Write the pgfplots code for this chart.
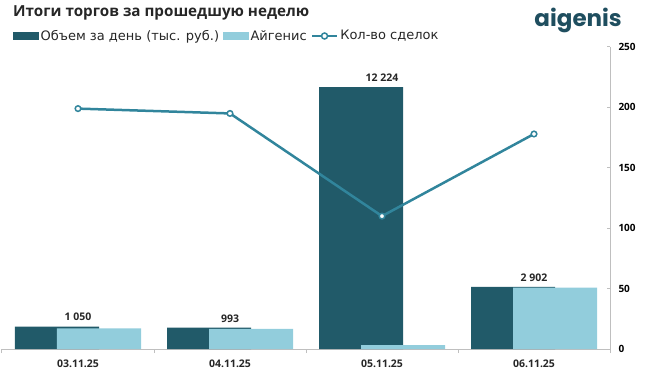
\documentclass[border=0pt]{standalone}
\usepackage{fontspec}
\setmainfont{Open Sans}
\newfontfamily\logofont{Poppins}
\newfontfamily\legfont{DejaVu Sans}
\usepackage{pgfplots}
\pgfplotsset{compat=1.18}
\definecolor{dk}{HTML}{215A69}
\definecolor{lt}{HTML}{92CDDC}
\definecolor{ln}{HTML}{31859C}
\definecolor{gr}{HTML}{BFBFBF}
\definecolor{tx}{HTML}{262626}
\definecolor{logo}{HTML}{1F4E5F}
\begin{document}
\begin{tikzpicture}
\path[use as bounding box] (0,0) rectangle (645pt,378pt);
\node[anchor=west, inner sep=0pt, font=\fontsize{15.2}{17}\selectfont\bfseries, text=tx] at (13pt,365pt) {Итоги торгов за прошедшую неделю};
\node[anchor=base east, inner sep=0pt, font=\logofont\fontsize{23}{25}\selectfont\bfseries, text=logo] at (622pt,351pt) {aigenis};
\begin{axis}[at={(2pt,29pt)}, anchor=south west, width=608pt, height=302pt, scale only axis,
  xmin=-0.5, xmax=3.5, ymin=0, ymax=14100,
  axis y line=none, axis x line*=bottom, axis line style={gr, line width=1pt, -},
  xtick={0,1,2,3}, xticklabels={03.11.25,04.11.25,05.11.25,06.11.25},
  major x tick style={draw=none},
  minor xtick={-0.5,0.5,1.5,2.5,3.5}, minor tick length=4pt, tick align=outside,
  minor x tick style={gr, line width=1pt},
  xticklabel style={font=\fontsize{10.5}{12}\selectfont\bfseries, text=tx, yshift=-3pt},
  clip=false]
\addplot[ybar, bar width=84pt, bar shift=-21pt, fill=dk, draw=none,
  point meta=explicit symbolic, nodes near coords,
  nodes near coords style={font=\fontsize{10.5}{12}\selectfont\bfseries, text=tx, yshift=2pt}]
  coordinates {(0,1050) [1 050] (1,993) [993] (2,12224) [12 224] (3,2902) [2 902]};
\addplot[ybar, bar width=84pt, bar shift=21pt, fill=lt, draw=none]
  coordinates {(0,960) (1,935) (2,186) (3,2860)};
\end{axis}
\begin{axis}[at={(2pt,29pt)}, anchor=south west, width=608pt, height=302pt, scale only axis,
  xmin=-0.5, xmax=3.5, ymin=0, ymax=250,
  axis x line=none, axis y line*=right, axis line style={gr, line width=1pt, -},
  ytick={0,50,100,150,200,250},
  yticklabels={0,50,100,150,200,250},
  tick align=inside, major tick length=3pt,
  every y tick/.style={gr, line width=1pt},
  every y tick label/.style={font=\fontsize{10}{11}\selectfont\bfseries, text=black, anchor=west, xshift=5pt},
  legend style={at={(0,1)}, anchor=west, xshift=11pt, yshift=11pt, draw=none, fill=none,
    inner sep=0pt, font=\legfont\fontsize{13}{15}\selectfont, text=tx,
    nodes={inner sep=2pt},
    /tikz/every even column/.append style={column sep=2pt}},
  legend columns=-1, legend cell align=left,
  clip=false]
\addlegendimage{legend image code/.code={\fill[dk] (0pt,-3.5pt) rectangle (25pt,3.5pt);}}
\addlegendentry{Объем за день (тыс. руб.)}
\addlegendimage{legend image code/.code={\fill[lt] (0pt,-3.5pt) rectangle (25pt,3.5pt);}}
\addlegendentry{Айгенис}
\addplot[ln, line width=2.5pt, mark=*, mark options={fill=white, draw=ln, line width=1.5pt}, mark size=2.8pt,
  legend image code/.code={\draw[ln, line width=2.5pt] (0pt,0pt)--(25pt,0pt); \draw[ln, fill=white, line width=1.5pt] (12.5pt,0pt) circle (3pt);}]
  coordinates {(0,199) (1,195) (2,110) (3,178)};
\addlegendentry{Кол-во сделок}
\end{axis}
\end{tikzpicture}
\end{document}
